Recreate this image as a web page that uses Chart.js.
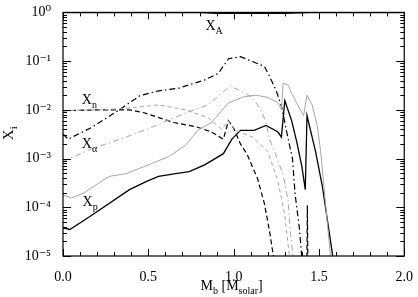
<!DOCTYPE html>
<html>
<head>
<meta charset="utf-8">
<script src="https://cdn.jsdelivr.net/npm/chart.js@4/dist/chart.umd.min.js"></script>
<style>
	html, body { margin: 0; padding: 0; background: #fff; }
	canvas { display: block; }
</style>
</head>
<body>
<canvas id="myChart" width="418" height="297"></canvas>
<script>
// M_b [M_solar] positions and mass fractions
const mbXA = [0, 0.8, 0.9, 1.3, 1.45, 2.0];
const xA = [0.985, 0.985, 0.955, 0.955, 0.985, 0.985];

const mbXpBlack = [0, 0.04, 0.14, 0.39, 0.49, 0.56, 0.66, 0.74, 0.83, 0.94, 0.99, 1.04, 1.12, 1.19, 1.26, 1.28, 1.30, 1.34, 1.37, 1.40, 1.42, 1.43, 1.48, 1.52, 1.585];
const xpBlack = [3.8e-5, 3.5e-5, 5.9e-5, 2.3e-4, 3.4e-4, 4.3e-4, 4.9e-4, 5.4e-4, 7.4e-4, 1.26e-3, 2.5e-3, 3.8e-3, 3.8e-3, 4.8e-3, 3.5e-3, 2.75e-3, 1.55e-2, 6.0e-3, 2.2e-3, 6.8e-4, 2.3e-4, 7.6e-3, 1.4e-3, 2.7e-4, 8e-6];

const mbXpGrey = [0, 0.05, 0.12, 0.27, 0.37, 0.52, 0.62, 0.72, 0.79, 0.87, 0.97, 1.06, 1.13, 1.20, 1.26, 1.28, 1.29, 1.32, 1.34, 1.39, 1.41, 1.43, 1.46, 1.49, 1.51, 1.57];
const xpGrey = [1.8e-4, 1.55e-4, 1.95e-4, 4.3e-4, 4.9e-4, 7.9e-4, 1.1e-3, 1.9e-3, 3.8e-3, 5.5e-3, 1.4e-2, 1.85e-2, 2.0e-2, 1.8e-2, 1.4e-2, 1.0e-2, 3.5e-2, 3.2e-2, 2.2e-2, 1.0e-2, 7.6e-3, 2.0e-2, 1.26e-2, 4.8e-3, 1.4e-3, 8e-6];

const mbXnBlack = [0, 0.21, 0.39, 0.475, 0.65, 0.79, 0.87, 0.94, 0.97, 1.00, 1.04, 1.08, 1.14, 1.18, 1.21, 1.235, 1.30, 1.425, 1.432, 1.44];
const xnBlack = [9.6e-3, 1.0e-2, 1.0e-2, 8.7e-3, 5.5e-3, 4.4e-3, 3.5e-3, 2.5e-3, 6.0e-3, 4.2e-3, 2.0e-3, 1.2e-3, 3.9e-4, 1.2e-4, 3.3e-5, 9e-6, 1e-7, 1e-7, 1.1e-4, 1e-7];

const mbXnGrey = [0, 0.21, 0.33, 0.56, 0.72, 0.85, 0.93, 0.97, 1.01, 1.11, 1.20, 1.26, 1.30, 1.33];
const xnGrey = [9.6e-3, 1.0e-2, 1.05e-2, 1.26e-2, 1.0e-2, 6.9e-3, 4.0e-3, 6.0e-3, 3.8e-3, 2.75e-3, 1.4e-3, 3.4e-4, 6.8e-5, 8e-6];

const mbXaBlack = [0, 0.03, 0.17, 0.33, 0.45, 0.56, 0.68, 0.83, 0.91, 0.97, 1.04, 1.11, 1.18, 1.21, 1.25, 1.28, 1.32, 1.345, 1.36, 1.385, 1.40];
const xaBlack = [3.2e-3, 2.5e-3, 4.4e-3, 1.0e-2, 1.95e-2, 2.45e-2, 2.8e-2, 4.1e-2, 5.6e-2, 1.12e-1, 1.23e-1, 9.8e-2, 7.8e-2, 4.9e-2, 2.45e-2, 1.2e-2, 2.5e-3, 1.0e-3, 1.9e-4, 3.8e-5, 9e-6];

const mbXaGrey = [0, 0.17, 0.37, 0.56, 0.72, 0.85, 0.98, 1.04, 1.11, 1.16, 1.19, 1.21, 1.24, 1.29, 1.32, 1.33, 1.35];
const xaGrey = [8.7e-4, 1.6e-3, 2.75e-3, 5.0e-3, 8.7e-3, 1.26e-2, 3.1e-2, 2.45e-2, 1.8e-2, 1.0e-2, 5.5e-3, 2.5e-3, 1.4e-3, 4.7e-4, 1.35e-4, 3.8e-5, 8e-6];

const xTicks = [0, 0.5, 1.0, 1.5, 2.0];
const yDecades = [-5, -4, -3, -2, -1, 0];

// curve labels: [main, subscript, M_b, X]
const curveLabels = [
	['X', 'A', 0.835, 0.44],
	['X', 'n', 0.11, 0.0133],
	['X', 'α', 0.11, 0.00166],
	['X', 'p', 0.115, 0.000107],
];

const SERIF = '"Liberation Serif", "DejaVu Serif", serif';
const GREY = '#a6a6a6';

const pts = (xs, ys) => xs.map((x, i) => ({ x, y: ys[i] }));

const sup = (n) => {
	const map = { '-': '⁻', '0': '⁰', '1': '¹', '2': '²', '3': '³', '4': '⁴', '5': '⁵' };
	return String(n).split('').map(c => map[c]).join('');
};

const line = (data, color, width, dash) => ({
	data,
	borderColor: color,
	borderWidth: width,
	borderDash: dash,
	pointRadius: 0,
	fill: false,
	tension: 0,
});

const data = {
	datasets: [
		line(pts(mbXpGrey, xpGrey), GREY, 1, []),
		line(pts(mbXnGrey, xnGrey), GREY, 1, [4, 3]),
		line(pts(mbXaGrey, xaGrey), GREY, 1, [6, 3, 1.5, 3]),
		line(pts(mbXA, xA), '#000', 1.2, []),
		line(pts(mbXnBlack, xnBlack), '#000', 1.2, [5, 3]),
		line(pts(mbXaBlack, xaBlack), '#000', 1.2, [6, 3, 1.5, 3]),
		line(pts(mbXpBlack, xpBlack), '#000', 1.3, []),
	],
};

function drawSub(ctx, main, sub, x, y, size) {
	ctx.font = size + 'px ' + SERIF;
	ctx.fillText(main, x, y);
	const w = ctx.measureText(main).width;
	ctx.font = Math.round(size * 0.72) + 'px ' + SERIF;
	ctx.fillText(sub, x + w, y + size * 0.28);
	return w + ctx.measureText(sub).width;
}

const frame = {
	id: 'frame',
	afterDraw(chart) {
		const { ctx, chartArea: a, scales } = chart;
		const xs = scales.x;
		const ys = scales.y;
		ctx.save();
		ctx.strokeStyle = '#000';
		ctx.fillStyle = '#000';
		ctx.lineWidth = 1.2;
		ctx.strokeRect(a.left, a.top, a.right - a.left, a.bottom - a.top);

		// inward ticks, bottom and top
		ctx.lineWidth = 1;
		ctx.beginPath();
		for (let i = 0; i <= 20; i++) {
			const px = Math.round(xs.getPixelForValue(i / 10)) + 0.5;
			const len = i % 5 === 0 ? 7 : 4;
			ctx.moveTo(px, a.bottom); ctx.lineTo(px, a.bottom - len);
			ctx.moveTo(px, a.top); ctx.lineTo(px, a.top + len);
		}
		// inward ticks, left and right
		yDecades.forEach(d => {
			for (let k = 1; k <= 9; k++) {
				if (d === 0 && k > 1) break;
				const py = Math.round(ys.getPixelForValue(k * Math.pow(10, d))) + 0.5;
				const len = k === 1 ? 8 : 4;
				ctx.moveTo(a.left, py); ctx.lineTo(a.left + len, py);
				ctx.moveTo(a.right, py); ctx.lineTo(a.right - len, py);
			}
		});
		ctx.stroke();

		// curve labels
		ctx.textBaseline = 'alphabetic';
		ctx.textAlign = 'left';
		curveLabels.forEach(([m, s, vx, vy]) => {
			drawSub(ctx, m, s, xs.getPixelForValue(vx), ys.getPixelForValue(vy), 14);
		});

		// x axis title: M_b [M_solar]
		ctx.font = '14px ' + SERIF;
		const parts = [['M', 'b'], [' [M', 'solar'], [']', '']];
		let total = 0;
		parts.forEach(([m, s]) => {
			ctx.font = '14px ' + SERIF; total += ctx.measureText(m).width;
			ctx.font = '10px ' + SERIF; total += ctx.measureText(s).width;
		});
		let cx = (a.left + a.right) / 2 - total / 2 - 2;
		parts.forEach(([m, s]) => {
			cx += drawSub(ctx, m, s, cx, 290, 14);
		});

		// y axis title: X_i
		ctx.translate(13, (a.top + a.bottom) / 2);
		ctx.rotate(-Math.PI / 2);
		drawSub(ctx, 'X', 'i', -6, 0, 15);
		ctx.restore();
	},
};

const config = {
	type: 'line',
	data,
	options: {
		responsive: false,
		animation: false,
		devicePixelRatio: 1,
		layout: { padding: { left: 0, right: 10, top: 8, bottom: 0 } },
		plugins: { legend: { display: false }, tooltip: { enabled: false } },
		scales: {
			x: {
				type: 'linear',
				min: 0,
				max: 2,
				grid: { display: false },
				border: { display: false },
				afterBuildTicks: (scale) => { scale.ticks = xTicks.map(v => ({ value: v })); },
				afterFit: (scale) => { scale.height = 41; },
				ticks: {
					color: '#000',
					padding: 5,
					maxRotation: 0,
					font: { family: SERIF, size: 14 },
					callback: (v) => Number(v).toFixed(1),
				},
			},
			y: {
				type: 'logarithmic',
				min: 1e-5,
				max: 1,
				grid: { display: false },
				border: { display: false },
				afterBuildTicks: (scale) => { scale.ticks = yDecades.map(d => ({ value: Math.pow(10, d) })); },
				afterFit: (scale) => { scale.width = 63; },
				ticks: {
					color: '#000',
					padding: 4,
					autoSkip: false,
					font: { family: SERIF, size: 14 },
					callback: (v) => '10' + sup(Math.round(Math.log10(v))),
				},
			},
		},
	},
	plugins: [frame],
};

new Chart(document.getElementById('myChart'), config);
</script>
</body>
</html>
